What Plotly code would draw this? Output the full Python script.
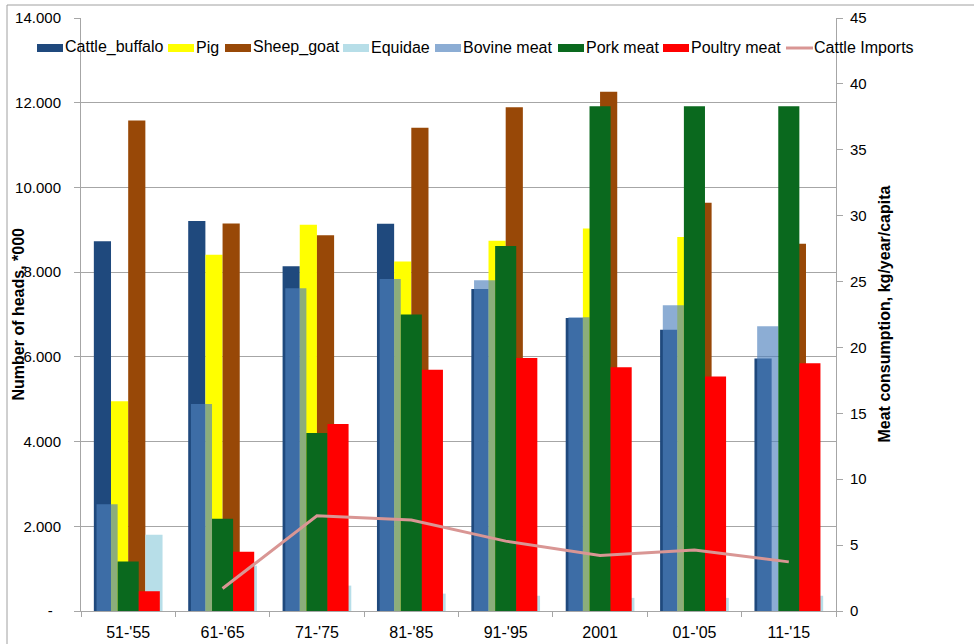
import plotly.graph_objects as go

# ---- data -------------------------------------------------------------
periods = ["51-'55", "61-'65", "71-'75", "81-'85", "91-'95", "2001", "01-'05", "11-'15"]

# livestock, thousand heads (left axis)
cattle_buffalo = [8730, 9210, 8140, 9140, 7600, 6920, 6640, 5960]
pig = [4950, 8410, 9120, 8250, 8740, 9030, 8830, None]
sheep_goat = [11580, 9150, 8870, 11410, 11890, 12260, 9640, 8670]
equidae = [1800, 1070, 600, 410, 360, 310, 310, 360]
cattle_imports = [None, 530, 2250, 2150, 1650, 1310, 1440, 1160]

# meat consumption, kg/year/capita (right axis)
bovine_meat = [8.1, 15.7, 24.5, 25.2, 25.1, 22.3, 23.2, 21.6]
pork_meat = [3.75, 7.0, 13.5, 22.5, 27.7, 38.3, 38.3, 38.3]
poultry_meat = [1.5, 4.5, 14.2, 18.3, 19.2, 18.5, 17.8, 18.8]

left_ticks = [0, 2000, 4000, 6000, 8000, 10000, 12000, 14000]
left_tick_text = ["-\u00a0\u00a0", "2.000", "4.000", "6.000", "8.000",
                  "10.000", "12.000", "14.000"]

# ---- styling ----------------------------------------------------------
FONT = "Liberation Sans, Arial, sans-serif"
GRID = "#A6A6A6"
C_CATTLE = "#1F497D"
C_PIG = "#FFFF00"
C_SHEEP = "#984807"
C_EQUI = "#B7DEE8"
C_BOVINE = "rgba(79,129,189,0.65)"
C_PORK = "#0A691E"
C_POULTRY = "#FF0000"
C_IMPORTS = "#D99694"

# figure geometry (pixels)
W, H = 974, 644
ML, MR, MT, MB = 81, 138, 18, 33
PW, PH = W - ML - MR, H - MT - MB


def px_x(px):
    return (px - ML) / PW


def px_y(py):
    return (H - MB - py) / PH


fig = go.Figure()

# primary group: four livestock bars per period
w1 = 0.182
primary = [("Cattle_buffalo", cattle_buffalo, C_CATTLE),
           ("Pig", pig, C_PIG),
           ("Sheep_goat", sheep_goat, C_SHEEP),
           ("Equidae", equidae, C_EQUI)]
for i, (name, vals, col) in enumerate(primary):
    fig.add_trace(go.Bar(x=periods, y=vals, name=name, marker_color=col,
                         marker_line_width=0, width=w1,
                         offset=-2 * w1 + i * w1, yaxis="y"))

# secondary group: three meat-consumption bars per period
w2 = 0.2235
secondary = [("Bovine meat", bovine_meat, C_BOVINE),
             ("Pork meat", pork_meat, C_PORK),
             ("Poultry meat", poultry_meat, C_POULTRY)]
for i, (name, vals, col) in enumerate(secondary):
    fig.add_trace(go.Bar(x=periods, y=vals, name=name, marker_color=col,
                         marker_line_width=0, width=w2,
                         offset=-1.5 * w2 + i * w2, yaxis="y2"))

fig.add_trace(go.Scatter(x=periods, y=cattle_imports, name="Cattle Imports",
                         mode="lines", line=dict(color=C_IMPORTS, width=3),
                         yaxis="y3"))

# ---- legend built from swatches + labels ------------------------------
legend_items = [("Cattle_buffalo", C_CATTLE, 37), ("Pig", C_PIG, 168),
                ("Sheep_goat", C_SHEEP, 225), ("Equidae", C_EQUI, 343),
                ("Bovine meat", C_BOVINE, 435), ("Pork meat", C_PORK, 558),
                ("Poultry meat", C_POULTRY, 663), ("Cattle Imports", C_IMPORTS, 786)]
shapes = []
annotations = []
ly = 48
for name, col, sx in legend_items:
    if name == "Cattle Imports":
        shapes.append(dict(type="line", xref="paper", yref="paper",
                           x0=px_x(sx), x1=px_x(sx + 27), y0=px_y(ly), y1=px_y(ly),
                           line=dict(color=col, width=3)))
    else:
        shapes.append(dict(type="rect", xref="paper", yref="paper",
                           x0=px_x(sx), x1=px_x(sx + 26), y0=px_y(ly + 4), y1=px_y(ly - 4),
                           fillcolor=col, line=dict(width=0)))
    annotations.append(dict(text=name, xref="paper", yref="paper",
                            x=px_x(sx + 27), y=px_y(ly - 1), xanchor="left", yanchor="middle",
                            showarrow=False, borderpad=0,
                            font=dict(family=FONT, size=16, color="#000")))

# outer chart frame
shapes.append(dict(type="rect", xref="paper", yref="paper",
                   x0=px_x(7), x1=px_x(W + 20), y0=px_y(H + 20), y1=px_y(5),
                   line=dict(color="#A0A0A0", width=1), fillcolor="rgba(0,0,0,0)"))

# axis titles
annotations.append(dict(text="<b>Number of heads, *000</b>", xref="paper", yref="paper",
                        x=px_x(18), y=0.5, textangle=-90, showarrow=False,
                        xanchor="center", yanchor="middle",
                        font=dict(family=FONT, size=16, color="#000")))
annotations.append(dict(text="<b>Meat consumption, kg/year/capita</b>", xref="paper",
                        yref="paper", x=px_x(884), y=0.5, textangle=-90, showarrow=False,
                        xanchor="center", yanchor="middle",
                        font=dict(family=FONT, size=16, color="#000")))

fig.update_layout(
    width=W, height=H,
    margin=dict(l=ML, r=MR, t=MT, b=MB, pad=0, autoexpand=False),
    paper_bgcolor="white", plot_bgcolor="white",
    barmode="overlay",
    showlegend=False,
    font=dict(family=FONT, size=15, color="#000"),
    xaxis=dict(type="category", range=[-0.5, 7.5], showline=True, linecolor=GRID,
               linewidth=1, ticks="outside", ticklen=5, tickcolor=GRID,
               tickson="boundaries", showgrid=False, tickfont=dict(size=16),
               ticklabelstandoff=7, automargin=False),
    yaxis=dict(range=[0, 14000], tickvals=left_ticks, ticktext=left_tick_text,
               showline=True, linecolor=GRID, linewidth=1, ticks="outside",
               ticklen=6, tickcolor=GRID, showgrid=True, gridcolor=GRID,
               gridwidth=1, zeroline=False, ticklabelstandoff=10,
               tickfont=dict(size=15), automargin=False),
    yaxis2=dict(range=[0, 45], dtick=5, overlaying="y", side="right",
                showline=True, linecolor=GRID, linewidth=1, ticks="outside",
                ticklen=6, tickcolor=GRID, showgrid=False, zeroline=False,
                ticklabelstandoff=4, tickfont=dict(size=15), automargin=False),
    yaxis3=dict(range=[0, 14000], overlaying="y", visible=False, automargin=False),
    shapes=shapes,
    annotations=annotations,
)

fig.write_html("out.html")
